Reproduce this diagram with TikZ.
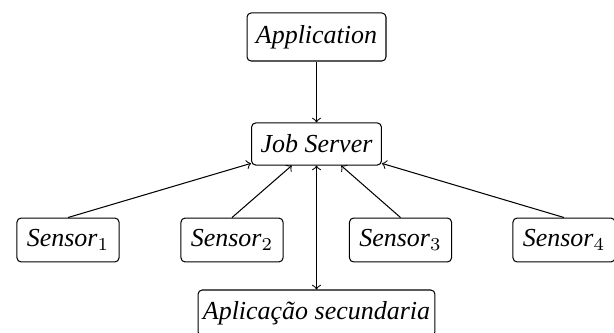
\documentclass[tikz,border=0pt]{standalone}
\usepackage{fontspec}
\setmainfont{Liberation Serif}
\begin{document}
\begin{tikzpicture}[x=0.385pt, y=-0.385pt,
  box/.style={draw, rounded corners=1.6pt, inner sep=0pt, font=\itshape, line width=0.4pt},
  link/.style={->, line width=0.4pt}]
  \clip (0,0) rectangle (614,333);
  % component boxes
  \node[box, minimum width=53.5pt, minimum height=18.5pt] (app) at (316.5,37) {Application};
  \node[box, minimum width=50pt, minimum height=16.2pt] (js) at (316.5,144) {Job Server};
  \node[box, minimum width=39.3pt, minimum height=16.9pt] (s1) at (68,240) {Sensor$_1$};
  \node[box, minimum width=39.3pt, minimum height=16.9pt] (s2) at (232,240) {Sensor$_2$};
  \node[box, minimum width=39.3pt, minimum height=16.9pt] (s3) at (400.5,240) {Sensor$_3$};
  \node[box, minimum width=39.3pt, minimum height=16.9pt] (s4) at (564,240) {Sensor$_4$};
  \node[box, minimum width=91.2pt, minimum height=17.7pt] (sec) at (316.5,313) {Aplicação secundaria};
  % connectors
  \draw[link] (app) -- (js);
  \draw[link] (s1.north) -- (js);
  \draw[link] (s2.north) -- (js);
  \draw[link] (s3.north) -- (js);
  \draw[link] (s4.north) -- (js);
  \draw[<->, line width=0.4pt] (js) -- (sec);
\end{tikzpicture}
\end{document}
